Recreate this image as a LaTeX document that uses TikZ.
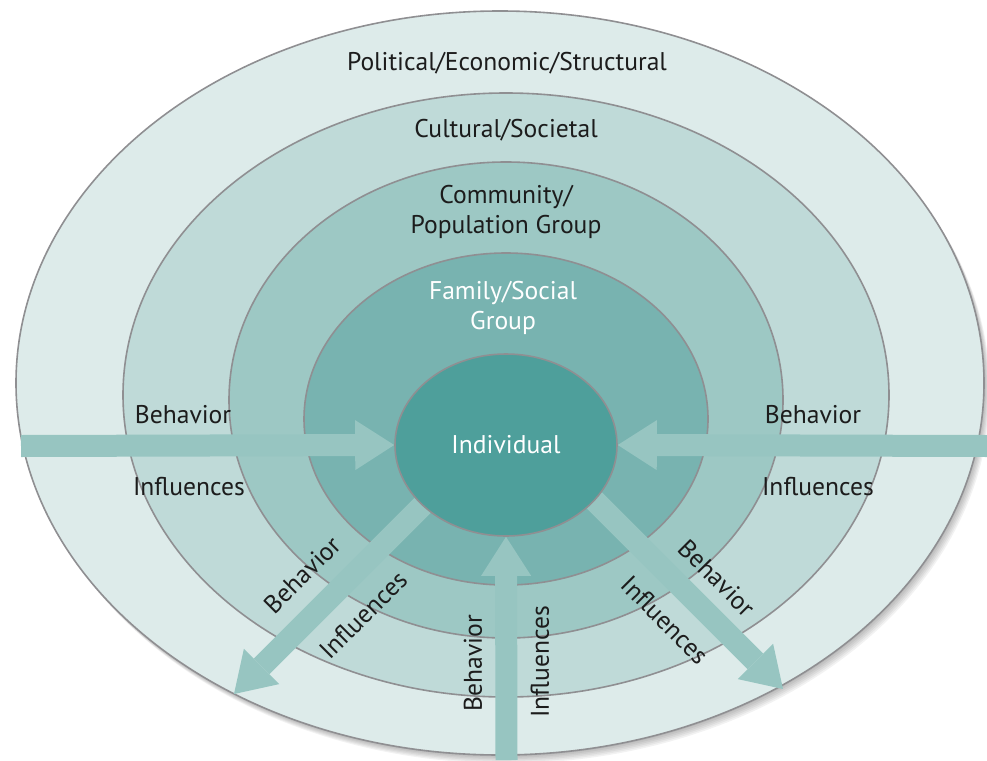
\documentclass[tikz,border=0pt]{standalone}
\usepackage{fontspec}
\setmainfont{PT Sans}
\usetikzlibrary{arrows.meta,shapes.geometric}
\definecolor{ringA}{HTML}{DDEBEA}
\definecolor{ringB}{HTML}{BFDAD8}
\definecolor{ringC}{HTML}{9DC8C4}
\definecolor{ringD}{HTML}{78B3B0}
\definecolor{indiv}{HTML}{4E9F9B}
\definecolor{rim}{HTML}{8F8F92}
\definecolor{flowcol}{HTML}{97C5C1}
\definecolor{ink}{HTML}{1C1C1C}
\pgfdeclarelayer{rings}
\pgfdeclarelayer{flows}
\pgfsetlayers{rings,flows,main}
\tikzset{ring/.style={draw=rim, line width=1.6pt},
  lbl/.style={text=ink, font=\fontsize{25.6}{30}\selectfont, align=center, inner sep=0pt},
  lblw/.style={lbl, text=white},
  flow/.style={draw=flowcol, line width=22pt, -{Triangle[length=39pt,width=50pt,line width=0pt]}}}

\begin{document}
\begin{tikzpicture}[x=1pt,y=-1pt]
  \useasboundingbox (0,0) rectangle (987,760);
  \begin{pgfonlayer}{rings}
   % soft shadow under the outer ring
   \foreach \s in {1,...,6}
    \fill[black, opacity=0.05] (500+\s,383+1.4*\s) ellipse [x radius=484, y radius=372];
   \foreach \cx/\cy/\rx/\ry/\col in {500/383/484/372/ringA, 506/395/383/302/ringB,
                                     506/400/277/238/ringC, 506/419/202/166/ringD}
    \draw[ring, fill=\col] (\cx,\cy) ellipse [x radius=\rx, y radius=\ry];
  \end{pgfonlayer}

  \node[ellipse, ring, fill=indiv, minimum width=222pt, minimum height=182pt, inner sep=0pt] (ind) at (506,445) {};
  \node[lblw] at (ind) {Individual};

  \coordinate (w) at (21,446);
  \coordinate (e) at (987,446);
  \coordinate (s) at (506.5,760);
  \coordinate (sw0) at (448,480);
  \coordinate (sw) at (234,694);
  \coordinate (se0) at (570,476);
  \coordinate (se) at (783,689);
  \begin{pgfonlayer}{flows}
   \draw[flow] (w) -- (ind.west);
   \draw[flow] (e) -- (ind.east);
   \draw[flow] (s) -- (ind.south);
   \draw[flow] (sw0) -- (sw);
   \draw[flow] (se0) -- (se);
  \end{pgfonlayer}

  \node[lbl] (pol) at (507,63) {Political/Economic/Structural};
  \node[lbl] (cul) at (506,130) {Cultural/Societal};
  \node[lbl] (com) at (506,212) {Community/\\Population Group};
  \node[lblw] (fam) at (503,308) {Family/Social\\Group};

  \node[lbl] (bw) at (183,415) {Behavior};
  \node[lbl] (iw) at (189,487) {Influences};
  \node[lbl] (be) at (813,415) {Behavior};
  \node[lbl] (ie) at (818,487) {Influences};
  \node[lbl, rotate=45] (bsw) at (302,575) {Behavior};
  \node[lbl, rotate=45] (isw) at (363,615) {Influences};
  \node[lbl, rotate=-45] (bse) at (717,578) {Behavior};
  \node[lbl, rotate=-45] (ise) at (665,620) {Influences};
  \node[lbl, rotate=90] (bs) at (473,663) {Behavior};
  \node[lbl, rotate=90] (is) at (540,662) {Influences};
\end{tikzpicture}
\end{document}
